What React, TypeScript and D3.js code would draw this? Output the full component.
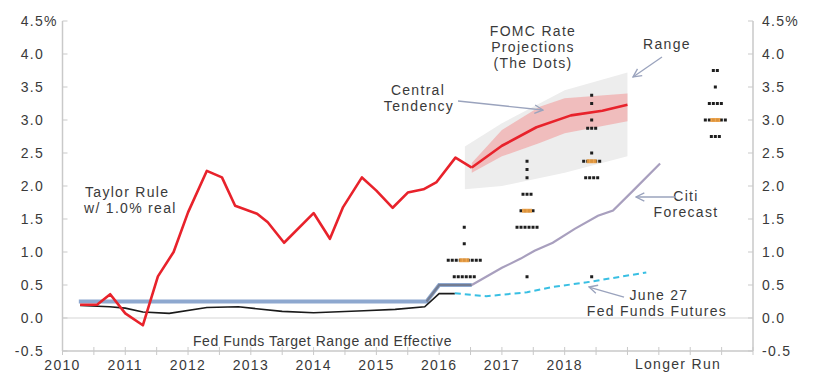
import React from 'react';
import * as d3 from 'd3';

// Taylor rule w/ 1.0% real
const taylorT = [2010.28, 2010.55, 2010.76, 2011.0, 2011.28, 2011.52, 2011.77, 2012.0, 2012.3, 2012.54, 2012.75, 2013.1, 2013.27, 2013.53, 2014.0, 2014.26, 2014.47, 2014.77, 2015.0, 2015.26, 2015.5, 2015.75, 2015.96, 2016.26, 2016.52];
const taylorV = [0.2, 0.2, 0.36, 0.07, -0.11, 0.63, 1.0, 1.6, 2.23, 2.13, 1.7, 1.58, 1.45, 1.14, 1.59, 1.2, 1.68, 2.13, 1.93, 1.67, 1.9, 1.95, 2.06, 2.43, 2.28];

// median projection path
const projT = [2016.52, 2017.0, 2017.55, 2018.1, 2018.6, 2019.0];
const projV = [2.28, 2.61, 2.89, 3.07, 3.14, 3.23];

// central tendency band
const ctT = [2016.52, 2017.0, 2017.6, 2018.0, 2019.0];
const ctHigh = [2.35, 2.85, 3.2, 3.33, 3.4];
const ctLow = [2.2, 2.45, 2.65, 2.8, 2.98];

// range band
const rangeT = [2016.41, 2017.0, 2018.0, 2019.0];
const rangeHigh = [2.6, 2.95, 3.45, 3.72];
const rangeLow = [1.95, 2.0, 2.2, 2.45];

// fed funds target range (upper) and effective
const targetT = [2010.26, 2015.8, 2016.0, 2016.52];
const targetV = [0.25, 0.25, 0.5, 0.5];
const effT = [2010.28, 2010.75, 2011.0, 2011.28, 2011.7, 2012.3, 2012.8, 2013.5, 2014.0, 2014.8, 2015.3, 2015.77, 2016.0, 2016.25];
const effV = [0.19, 0.17, 0.15, 0.09, 0.07, 0.16, 0.17, 0.1, 0.08, 0.11, 0.13, 0.17, 0.37, 0.37];

// Citi forecast
const citiT = [2016.52, 2017.0, 2017.3, 2017.52, 2017.81, 2018.16, 2018.53, 2018.77, 2019.09, 2019.52];
const citiV = [0.5, 0.76, 0.9, 1.02, 1.14, 1.35, 1.55, 1.63, 1.93, 2.34];

// June 27 fed funds futures
const futT = [2016.25, 2016.75, 2017.4, 2017.8, 2018.35, 2019.3];
const futV = [0.375, 0.33, 0.39, 0.47, 0.54, 0.69];

// FOMC dots: [rate, count]
const dotCols = [2016.4, 2017.4, 2018.43, 2020.4];
const dots2016 = [[1.375, 1], [1.125, 1], [0.875, 9], [0.625, 6]];
const dots2017 = [[2.375, 1], [2.25, 1], [2.125, 1], [1.875, 3], [1.625, 4], [1.375, 6], [0.625, 1]];
const dots2018 = [[3.375, 1], [3.25, 1], [3.0, 1], [2.875, 3], [2.5, 1], [2.375, 5], [2.125, 4], [0.625, 1]];
const dotsLonger = [[3.75, 2], [3.5, 1], [3.25, 4], [3.0, 6], [2.75, 3]];
const medians = [0.875, 1.625, 2.375, 3.0];

const yTicks = [-0.5, 0, 0.5, 1, 1.5, 2, 2.5, 3, 3.5, 4, 4.5];
const yearLabels = [2010, 2011, 2012, 2013, 2014, 2015, 2016, 2017, 2018];

const W = 815;
const H = 384;
const FONT = '"Liberation Sans", Arial, sans-serif';
const TXT = '#3a3a3a';
const ARROW = '#9aa3bd';

const x = d3.scaleLinear().domain([2010, 2021]).range([62.5, 753]);
const y = d3.scaleLinear().domain([-0.5, 4.5]).range([351, 21]);

const zip = (ts: number[], vs: number[]) => ts.map((t, i) => [t, vs[i]] as [number, number]);
const line = d3.line<[number, number]>().x((d) => x(d[0])).y((d) => y(d[1]));
const band = (ts: number[], hi: number[], lo: number[]) =>
  d3.area<number>().x((_, i) => x(ts[i])).y0((_, i) => y(lo[i])).y1((_, i) => y(hi[i]))(ts);

const Label = ({ x: lx, y: ly, children, anchor = 'middle', size = 14, spacing = 1.3 }: any) => (
  <text x={lx} y={ly} textAnchor={anchor} fontFamily={FONT} fontSize={size} letterSpacing={spacing} fill={TXT}>
    {children}
  </text>
);

const DotColumn = ({ col, rows, median }: { col: number; rows: number[][]; median: number }) => {
  const cx = x(col);
  return (
    <g>
      {rows.map(([v, n], r) =>
        d3.range(n).map((k) => (
          <rect key={`${r}-${k}`} x={cx - (n * 4) / 2 + k * 4 + 0.5} y={y(v) - 1.5} width={3} height={3} fill="#1e1e1e" />
        ))
      )}
      <rect x={cx - 5} y={y(median) - 2} width={10} height={4} fill="#f0a040" opacity={0.9} />
    </g>
  );
};

export default function App() {
  const halfTicks = d3.range(2010, 2021.01, 0.5);
  return (
    <svg width={W} height={H} style={{ position: 'absolute', left: 0, top: 0, background: '#fff' }}>
      <defs>
        <marker id="arr" viewBox="0 0 10 10" refX={9} refY={5} markerWidth={8} markerHeight={8} orient="auto">
          <path d="M1,1 L9,5 L1,9" fill="none" stroke={ARROW} strokeWidth={1.3} />
        </marker>
      </defs>

      {/* bands */}
      <path d={band(rangeT, rangeHigh, rangeLow) || ''} fill="#ededed" />
      <path d={band(ctT, ctHigh, ctLow) || ''} fill="#f0b4b4" opacity={0.85} />

      {/* zero line */}
      <line x1={x(2010)} x2={x(2021)} y1={y(0)} y2={y(0)} stroke="#d6d6d6" strokeWidth={1.2} />

      {/* axes */}
      <line x1={x(2010)} x2={x(2010)} y1={y(4.5)} y2={y(-0.5)} stroke="#c9c9c9" strokeWidth={1.5} />
      <line x1={x(2021)} x2={x(2021)} y1={y(4.5)} y2={y(-0.5)} stroke="#c9c9c9" strokeWidth={1.5} />
      <line x1={x(2010)} x2={x(2021)} y1={y(-0.5)} y2={y(-0.5)} stroke="#c9c9c9" strokeWidth={1.5} />
      {yTicks.map((t) => (
        <g key={t}>
          <line x1={x(2010)} x2={x(2010) + 5} y1={y(t)} y2={y(t)} stroke="#c9c9c9" />
          <line x1={x(2021) - 5} x2={x(2021)} y1={y(t)} y2={y(t)} stroke="#c9c9c9" />
          <Label x={44} y={y(t) + 5} anchor="end">{t.toFixed(1)}</Label>
          <Label x={762} y={y(t) + 5} anchor="start">{t.toFixed(1) + (t === 4.5 ? '%' : '')}</Label>
        </g>
      ))}
      <Label x={44} y={y(4.5) + 5} anchor="start">%</Label>
      {halfTicks.map((t) => (
        <line key={t} x1={x(t)} x2={x(t)} y1={y(-0.5) - 4} y2={y(-0.5) + 4} stroke="#c9c9c9" />
      ))}
      {yearLabels.map((yr) => (
        <Label key={yr} x={x(yr)} y={370}>{yr}</Label>
      ))}
      <Label x={678} y={369}>Longer Run</Label>

      {/* fed funds */}
      <path d={line(zip(targetT, targetV)) || ''} fill="none" stroke="#8ea8cf" strokeWidth={4} />
      <path d={line(zip(targetT.slice(1), targetV.slice(1))) || ''} fill="none" stroke="#737c92" strokeWidth={2.2} />
      <path d={line(zip(effT, effV)) || ''} fill="none" stroke="#1a1a1a" strokeWidth={1.6} />

      {/* citi & futures */}
      <path d={line(zip(citiT, citiV)) || ''} fill="none" stroke="#a89fbe" strokeWidth={2.2} />
      <path d={line(zip(futT, futV)) || ''} fill="none" stroke="#39bfe3" strokeWidth={2} strokeDasharray="6,4" />

      {/* Taylor & projection */}
      <path d={line(zip(taylorT, taylorV)) || ''} fill="none" stroke="#e8222b" strokeWidth={2.6} strokeLinejoin="round" />
      <path d={line(zip(projT, projV)) || ''} fill="none" stroke="#e8222b" strokeWidth={2.6} strokeLinejoin="round" />

      {/* dots */}
      <DotColumn col={dotCols[0]} rows={dots2016} median={medians[0]} />
      <DotColumn col={dotCols[1]} rows={dots2017} median={medians[1]} />
      <DotColumn col={dotCols[2]} rows={dots2018} median={medians[2]} />
      <DotColumn col={dotCols[3]} rows={dotsLonger} median={medians[3]} />

      {/* annotations */}
      <Label x={533} y={36}>FOMC Rate</Label>
      <Label x={533} y={52}>Projections</Label>
      <Label x={533} y={68}>(The Dots)</Label>
      <Label x={667} y={49}>Range</Label>
      <line x1={662} y1={57} x2={633} y2={77} stroke={ARROW} strokeWidth={1.3} markerEnd="url(#arr)" />
      <Label x={418} y={95}>Central</Label>
      <Label x={419} y={111}>Tendency</Label>
      <line x1={458} y1={101} x2={543} y2={110} stroke={ARROW} strokeWidth={1.3} markerEnd="url(#arr)" />
      <Label x={85} y={197} anchor="start">Taylor Rule</Label>
      <Label x={84} y={213} anchor="start">w/ 1.0% real</Label>
      <Label x={686} y={201}>Citi</Label>
      <Label x={686} y={217}>Forecast</Label>
      <line x1={676} y1={197} x2={636} y2={197} stroke={ARROW} strokeWidth={1.3} markerEnd="url(#arr)" />
      <Label x={659} y={300}>June 27</Label>
      <Label x={657} y={316}>Fed Funds Futures</Label>
      <line x1={624} y1={297} x2={589} y2={287} stroke={ARROW} strokeWidth={1.3} markerEnd="url(#arr)" />
      <Label x={193} y={346} anchor="start" size={14} spacing={0.55}>Fed Funds Target Range and Effective</Label>
    </svg>
  );
}
